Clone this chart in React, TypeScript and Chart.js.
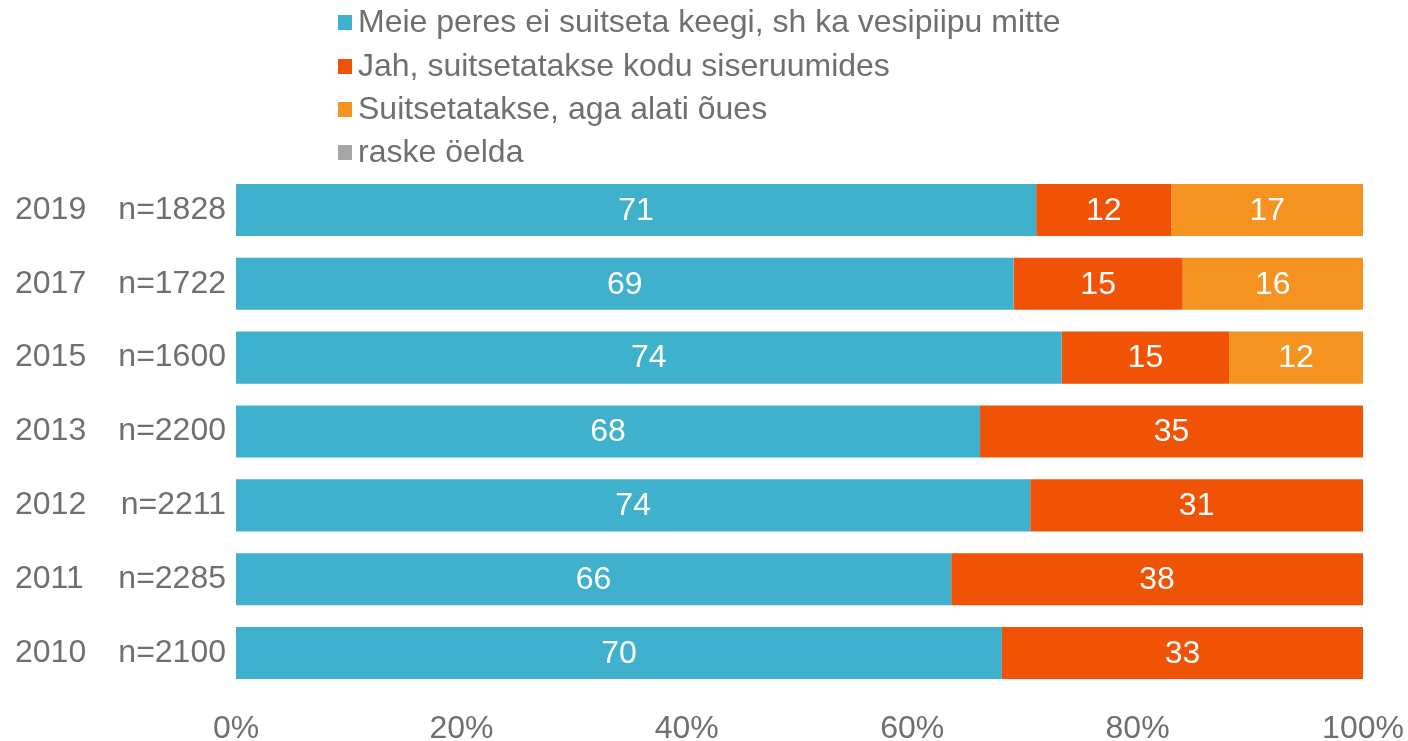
import { useEffect, useRef } from "react";
import { Chart, registerables } from "chart.js";

Chart.register(...registerables);

const years = ["2019", "2017", "2015", "2013", "2012", "2011", "2010"];
const sampleSizes = ["n=1828", "n=1722", "n=1600", "n=2200", "n=2211", "n=2285", "n=2100"];
const seriesNames = [
  "Meie peres ei suitseta keegi, sh ka vesipiipu mitte",
  "Jah, suitsetatakse kodu siseruumides",
  "Suitsetatakse, aga alati õues",
  "raske öelda",
];
const noSmoking = [71, 69, 74, 68, 74, 66, 70];
const indoors = [12, 15, 15, 35, 31, 38, 33];
const outdoors = [17, 16, 12, 0, 0, 0, 0];
const hardToSay = [0, 0, 0, 0, 0, 0, 0];
const seriesColors = ["#3FB1CD", "#F05206", "#F59321", "#A5A5A5"];
const xTickValues = [0, 20, 40, 60, 80, 100];

const FONT = "'Liberation Sans', Arial, sans-serif";
const TEXT = "#6F6F6F";
const FS = 32;

export default function App() {
  const ref = useRef<HTMLCanvasElement | null>(null);

  useEffect(() => {
    if (!ref.current) return;
    const raw = [noSmoking, indoors, outdoors, hardToSay];
    const totals = years.map((_, i) => raw.reduce((s, arr) => s + arr[i], 0));
    const datasets = raw.map((arr, k) => ({
      label: seriesNames[k],
      data: arr.map((v, i) => (v / totals[i]) * 100),
      rawValues: arr,
      backgroundColor: seriesColors[k],
      borderWidth: 0,
      barPercentage: 0.705,
      categoryPercentage: 1,
    }));

    const labelPlugin = {
      id: "labels",
      afterDatasetsDraw(chart: any) {
        const ctx = chart.ctx;
        ctx.save();
        ctx.font = `${FS}px ${FONT}`;
        ctx.fillStyle = "#FFFFFF";
        ctx.textAlign = "center";
        ctx.textBaseline = "middle";
        chart.data.datasets.forEach((ds: any, di: number) => {
          const meta = chart.getDatasetMeta(di);
          meta.data.forEach((el: any, i: number) => {
            const v = ds.rawValues[i];
            if (!v) return;
            const p = el.getCenterPoint();
            ctx.fillText(String(v), p.x, p.y + 1);
          });
        });
        // years column
        const ys = chart.scales.y;
        ctx.fillStyle = TEXT;
        ctx.textAlign = "left";
        years.forEach((yr, i) => {
          ctx.fillText(yr, 15, ys.getPixelForValue(i));
        });
        // legend
        const lx = 338;
        const rows = [22, 66, 109, 152];
        seriesNames.forEach((name, k) => {
          ctx.fillStyle = seriesColors[k];
          ctx.fillRect(lx, rows[k] - 7, 14, 15);
          ctx.fillStyle = TEXT;
          ctx.fillText(name, lx + 20, rows[k] + 1);
        });
        ctx.restore();
      },
    };

    const chart = new Chart(ref.current, {
      type: "bar",
      data: { labels: sampleSizes, datasets: datasets as any },
      options: {
        indexAxis: "y",
        animation: false,
        responsive: true,
        maintainAspectRatio: false,
        layout: { padding: { top: 173, right: 45, left: 0, bottom: 0 } },
        plugins: { legend: { display: false }, tooltip: { enabled: false } },
        scales: {
          x: {
            stacked: true,
            min: 0,
            max: 100,
            afterBuildTicks(scale: any) {
              scale.ticks = xTickValues.map((v) => ({ value: v }));
            },
            afterFit(scale: any) {
              scale.height = 51;
              scale.paddingRight = 0;
              scale.paddingLeft = 0;
            },
            grid: { display: false, drawTicks: false },
            border: { display: false },
            ticks: {
              color: TEXT,
              font: { family: FONT, size: FS },
              padding: 20,
              maxRotation: 0,
              callback: (v: any) => `${v}%`,
            },
          },
          y: {
            stacked: true,
            afterFit(scale: any) {
              scale.width = 236;
            },
            grid: { display: false, drawTicks: false },
            border: { display: false },
            ticks: {
              color: TEXT,
              font: { family: FONT, size: FS },
              padding: 10,
            },
          },
        },
      },
      plugins: [labelPlugin],
    });
    return () => chart.destroy();
  }, []);

  return (
    <div style={{ position: "fixed", left: 0, top: 0, width: 1408, height: 741, background: "#fff" }}>
      <canvas ref={ref} />
    </div>
  );
}
